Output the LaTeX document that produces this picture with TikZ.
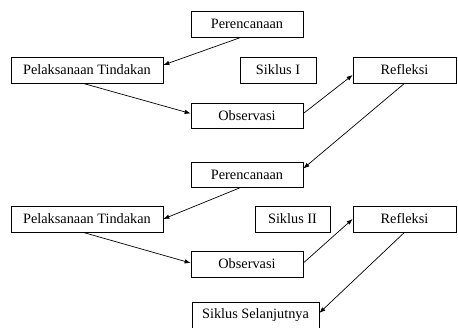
\documentclass[tikz,border=0pt]{standalone}
\usepackage{fontspec}
\setmainfont{Liberation Serif}
\usetikzlibrary{arrows.meta,calc}
\begin{document}
\begin{tikzpicture}[x=1pt,y=-1pt,
  box/.style={draw,line width=0.7pt,minimum height=26pt,inner sep=0pt,
    font=\fontsize{14.3}{17}\selectfont},
  conn/.style={line width=0.7pt,-{Latex[length=6pt,width=4.5pt]}}]
\useasboundingbox[fill=white] (0,0) rectangle (458,327);
\node[box,minimum width=112pt] (p1) at (247,24) {Perencanaan};
\node[box,minimum width=152pt] (l1) at (87,70) {Pelaksanaan Tindakan};
\node[box,minimum width=76pt] (s1) at (278,70) {Siklus I};
\node[box,minimum width=103pt] (r1) at (404.5,70) {Refleksi};
\node[box,minimum width=112pt,minimum height=25pt] (o1) at (247,115.5) {Observasi};
\node[box,minimum width=112pt,minimum height=25pt] (p2) at (247,174.5) {Perencanaan};
\node[box,minimum width=152pt] (l2) at (87,219) {Pelaksanaan Tindakan};
\node[box,minimum width=75pt] (s2) at (292.5,219) {Siklus II};
\node[box,minimum width=103pt] (r2) at (404.5,219) {Refleksi};
\node[box,minimum width=112pt] (o2) at (247,264) {Observasi};
\node[box,minimum width=127pt] (sn) at (255.5,315) {Siklus Selanjutnya};
\draw[conn] ([xshift=-6pt]p1.south) -- ([yshift=5pt]l1.east);
\draw[conn] ([xshift=-4pt]l1.south) -- ([yshift=2pt]o1.west);
\draw[conn] ([yshift=2pt]o1.east) -- ([yshift=-5pt]r1.west);
\draw[conn] (r1.south) -- ([yshift=6pt]p2.east);
\draw[conn] ([xshift=-6pt]p2.south) -- (l2.east);
\draw[conn] ([xshift=-4pt]l2.south) -- ([yshift=1pt]o2.west);
\draw[conn] ([yshift=1pt]o2.east) -- (r2.west);
\draw[conn] (r2.south) -- ([yshift=2pt]sn.east);
\end{tikzpicture}
\end{document}
